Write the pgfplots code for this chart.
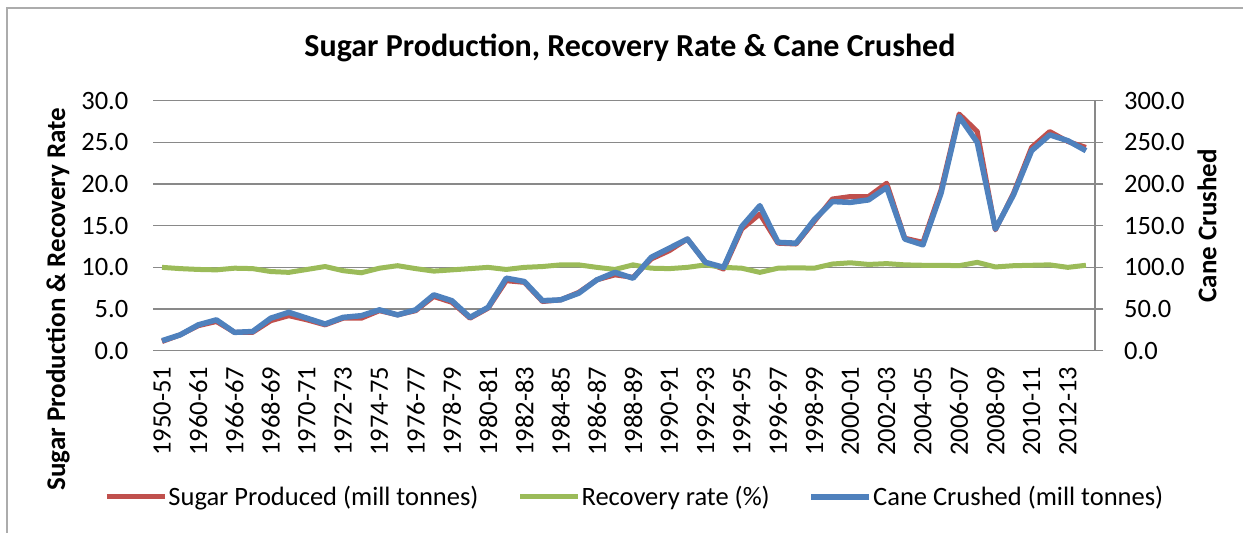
\documentclass[border=0pt]{standalone}
\usepackage{pgfplots}
\usepackage{pgfplotstable}
\pgfplotsset{compat=1.18}
\usepackage{fontspec}
\setmainfont{Carlito}
\definecolor{sred}{HTML}{C0504D}
\definecolor{sgreen}{HTML}{9BBB59}
\definecolor{sblue}{HTML}{4F81BD}
\definecolor{gridc}{HTML}{898989}
\pgfplotstableread{
k sugar rec cane
0 1.1 10.0 12
1 1.9 9.85 19
2 3.0 9.75 31
3 3.5 9.7 37
4 2.2 9.9 22
5 2.2 9.85 23
6 3.6 9.5 39
7 4.2 9.4 46
8 3.7 9.75 39
9 3.1 10.1 32
10 3.9 9.6 40
11 3.9 9.35 42
12 4.8 9.9 49
13 4.3 10.2 43
14 4.8 9.85 49
15 6.5 9.55 67
16 5.8 9.7 60
17 3.9 9.85 40
18 5.1 10.0 52
19 8.4 9.75 87
20 8.2 10.0 83
21 5.9 10.1 60
22 6.1 10.3 61
23 7.0 10.3 69
24 8.5 10.0 85
25 9.1 9.75 94
26 8.8 10.3 87
27 11.0 9.9 112
28 12.0 9.85 123
29 13.4 10.0 134
30 10.6 10.3 106
31 9.8 10.0 100
32 14.6 9.9 149
33 16.4 9.4 174
34 12.9 9.9 130
35 12.8 9.95 129
36 15.5 9.9 157
37 18.2 10.4 179
38 18.5 10.55 178
39 18.5 10.35 181
40 20.1 10.45 196
41 13.5 10.3 134
42 13.0 10.25 127
43 19.3 10.25 189
44 28.4 10.2 281
45 26.3 10.6 250
46 14.5 10.05 146
47 18.9 10.2 187
48 24.4 10.25 240
49 26.3 10.3 259
50 25.1 10.0 252
51 24.4 10.25 240
}\datatable
\begin{document}
\begin{tikzpicture}
\useasboundingbox (0,0) rectangle (1243bp,533bp);
\draw[color=gridc!70, line width=1.5bp] (7bp,0) -- (7bp,525bp) -- (1243bp,525bp);
\node[font=\bfseries\fontsize{32bp}{37bp}\selectfont, anchor=base] at (630bp,476bp) {Sugar Production, Recovery Rate \& Cane Crushed};
\begin{axis}[
  at={(153bp,182.3bp)}, anchor=south west,
  scale only axis, width=942bp, height=250bp,
  xmin=-0.5, xmax=51.5, ymin=0, ymax=30,
  axis line style={draw=none},
  ymajorgrids, grid style={gridc, line width=1.5bp},
  ytick={0,5,...,30}, xtick={0,2,...,50},
  xticklabels={1950-51,1960-61,1966-67,1968-69,1970-71,1972-73,1974-75,1976-77,1978-79,1980-81,1982-83,1984-85,1986-87,1988-89,1990-91,1992-93,1994-95,1996-97,1998-99,2000-01,2002-03,2004-05,2006-07,2008-09,2010-11,2012-13},
  major tick length=0pt, tick style={draw=none},
  tick label style={font=\fontsize{26.5bp}{30bp}\selectfont},
  yticklabel style={inner sep=0pt, anchor=east, xshift=-24.5bp},
  xticklabel style={inner sep=0pt, yshift=-16bp, rotate=90, anchor=east},
  /pgf/number format/fixed, /pgf/number format/fixed zerofill,
  /pgf/number format/precision=1, /pgf/number format/assume math mode=true,
  ylabel={Sugar Production \& Recovery Rate},
  ylabel style={font=\bfseries\fontsize{27bp}{31bp}\selectfont, at={(axis description cs:-0.101,0.207)}, anchor=center},
  legend columns=3,
  legend style={draw=none, fill=none, at={(axis description cs:0.511,-0.585)}, anchor=center,
    font=\fontsize{26.5bp}{30bp}\selectfont, inner sep=0pt,
    /tikz/every even column/.append style={column sep=38bp},
    nodes={inner sep=1bp}},
  legend image code/.code={\draw[#1] (0bp,0bp) -- (58bp,0bp);},
  every axis plot/.append style={line join=round},
]
\addplot[sred, line width=5bp] table[x=k,y=sugar] {\datatable};
\addlegendentry{Sugar Produced (mill tonnes)}
\addplot[sgreen, line width=5bp] table[x=k,y=rec] {\datatable};
\addlegendentry{Recovery rate (\%)}
\addlegendimage{sblue, line width=5.5bp}
\addlegendentry{Cane Crushed (mill tonnes)}
\end{axis}
\begin{axis}[
  at={(153bp,182.3bp)}, anchor=south west,
  scale only axis, width=942bp, height=250bp,
  xmin=-0.5, xmax=51.5, ymin=0, ymax=300,
  axis x line=none, axis y line*=right,
  axis line style={-, draw=gridc, line width=1.5bp},
  ytick={0,50,...,300}, tick align=outside, major tick length=8bp,
  ytick style={gridc, line width=1.5bp},
  tick label style={font=\fontsize{26.5bp}{30bp}\selectfont},
  yticklabel style={inner sep=0pt, anchor=west, xshift=21bp},
  /pgf/number format/fixed, /pgf/number format/fixed zerofill,
  /pgf/number format/precision=1, /pgf/number format/assume math mode=true,
  ylabel={Cane Crushed},
  ylabel style={font=\bfseries\fontsize{27bp}{31bp}\selectfont, at={(axis description cs:1.119,0.5)}, anchor=center},
  every axis plot/.append style={line join=round},
]
\addplot[sblue, line width=5.5bp] table[x=k,y=cane] {\datatable};
\end{axis}
\end{tikzpicture}
\end{document}
